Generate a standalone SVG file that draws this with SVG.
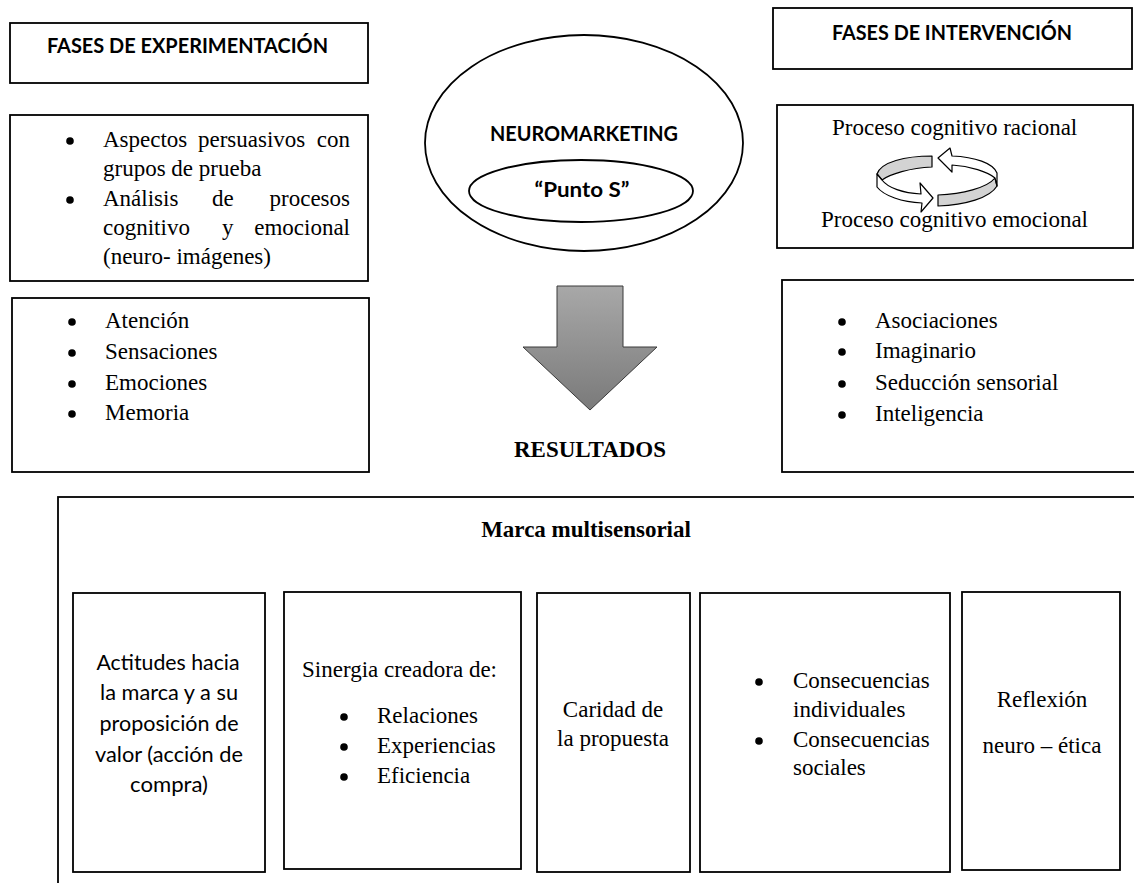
<svg xmlns="http://www.w3.org/2000/svg" width="1134" height="883" viewBox="0 0 1134 883">
  <defs>
    <linearGradient id="arrowFill" x1="0" y1="0" x2="0" y2="1">
      <stop offset="0" stop-color="#a8a8a8"/>
      <stop offset="1" stop-color="#7a7a7a"/>
    </linearGradient>
    <style>
      .box { fill: #ffffff; stroke: #000000; stroke-width: 1.8; }
      .line { fill: none; stroke: #000000; stroke-width: 1.8; }
      .serif { font-family: "Liberation Serif", "Times New Roman", serif; font-size: 23px; fill: #000000; }
      .serif-b { font-family: "Liberation Serif", "Times New Roman", serif; font-size: 23px; font-weight: bold; fill: #000000; }
      .sans { font-family: Lato, "Open Sans", "Liberation Sans", sans-serif; font-size: 21px; fill: #000000; }
      .sans-b { font-family: Lato, "Open Sans", "Liberation Sans", sans-serif; font-size: 20px; font-weight: bold; fill: #000000; }
      .mid { text-anchor: middle; }
      .end { text-anchor: end; }
      .dot { fill: #000000; }
      .ring-gray { fill: #d3d3d3; stroke: #000000; stroke-width: 1.2; stroke-linejoin: round; }
      .ring-white { fill: #ffffff; stroke: #000000; stroke-width: 1.2; stroke-linejoin: round; }
    </style>
  </defs>

  <rect width="1134" height="883" fill="#ffffff"/>

  <!-- Left column: experimentation phases -->
  <g id="fases-experimentacion">
    <rect class="box" x="10" y="23" width="358" height="60"/>
    <text class="sans-b mid" x="187.5" y="53" textLength="281" lengthAdjust="spacingAndGlyphs">FASES DE EXPERIMENTACIÓN</text>
  </g>

  <g id="aspectos">
    <rect class="box" x="10" y="115" width="358" height="166"/>
    <circle class="dot" cx="70" cy="141" r="3.8"/>
    <text class="serif" x="103" y="147">Aspectos</text>
    <text class="serif" x="198" y="147">persuasivos</text>
    <text class="serif end" x="350" y="147">con</text>
    <text class="serif" x="103" y="176">grupos de prueba</text>
    <circle class="dot" cx="70" cy="200" r="3.8"/>
    <text class="serif" x="103" y="206">Análisis</text>
    <text class="serif" x="212" y="206">de</text>
    <text class="serif end" x="350" y="206">procesos</text>
    <text class="serif" x="103" y="235">cognitivo</text>
    <text class="serif" x="222" y="235">y</text>
    <text class="serif end" x="350" y="235">emocional</text>
    <text class="serif" x="103" y="264">(neuro- imágenes)</text>
  </g>

  <g id="atencion">
    <rect class="box" x="12" y="298" width="357" height="174"/>
    <circle class="dot" cx="72" cy="322" r="3.8"/>
    <text class="serif" x="105" y="328">Atención</text>
    <circle class="dot" cx="72" cy="353" r="3.8"/>
    <text class="serif" x="105" y="359">Sensaciones</text>
    <circle class="dot" cx="72" cy="384" r="3.8"/>
    <text class="serif" x="105" y="390">Emociones</text>
    <circle class="dot" cx="72" cy="414" r="3.8"/>
    <text class="serif" x="105" y="420">Memoria</text>
  </g>

  <!-- Centre: neuromarketing ellipse and result arrow -->
  <g id="neuromarketing">
    <ellipse class="box" cx="584" cy="143" rx="159" ry="108"/>
    <text class="sans-b mid" x="584" y="141" textLength="188" lengthAdjust="spacingAndGlyphs">NEUROMARKETING</text>
  </g>

  <g id="punto-s">
    <ellipse class="box" cx="581" cy="191" rx="112" ry="31"/>
    <text class="sans-b mid" x="582" y="197" textLength="95" lengthAdjust="spacingAndGlyphs">“Punto S”</text>
  </g>

  <g id="resultados">
    <path d="M 557,286 L 623,286 L 623,347 L 657,347 L 590,410 L 523,347 L 557,347 Z" fill="url(#arrowFill)" stroke="#3a3a3a" stroke-width="1"/>
    <text class="serif-b mid" x="590" y="457">RESULTADOS</text>
  </g>

  <!-- Right column: intervention phases -->
  <g id="fases-intervencion">
    <rect class="box" x="773" y="8" width="359" height="61"/>
    <text class="sans-b mid" x="952" y="40" textLength="240" lengthAdjust="spacingAndGlyphs">FASES DE INTERVENCIÓN</text>
  </g>

  <g id="procesos">
    <rect class="box" x="777" y="105" width="356" height="143"/>
    <text class="serif" x="832" y="135">Proceso cognitivo racional</text>
    <!-- circular arrows: left half -->
    <path class="ring-gray" d="M 932,156 C 905,156 881,162 877,174 L 882,180 C 890,174 910,168 932,167 Z"/>
    <path class="ring-white" d="M 877,174 L 877,187 C 884,196 902,202 922,203 L 921,212 L 933,198 L 920,183 L 921,194 C 903,193 888,188 882,180 Z"/>
    <!-- circular arrows: right half -->
    <path class="ring-gray" d="M 938,195 C 962,194 987,188 995,178 L 997,186 C 990,198 965,205 938,206 Z"/>
    <path class="ring-white" d="M 997,186 L 997,173 C 993,163 975,157 952,156 L 950,148 L 938,158 L 952,172 L 952,165 C 970,166 988,172 995,178 Z"/>
    <text class="serif" x="821" y="227">Proceso cognitivo emocional</text>
  </g>

  <g id="asociaciones">
    <rect class="box" x="782" y="280" width="360" height="192"/>
    <circle class="dot" cx="842" cy="322" r="3.8"/>
    <text class="serif" x="875" y="328">Asociaciones</text>
    <circle class="dot" cx="842" cy="352" r="3.8"/>
    <text class="serif" x="875" y="358">Imaginario</text>
    <circle class="dot" cx="842" cy="384" r="3.8"/>
    <text class="serif" x="875" y="390">Seducción sensorial</text>
    <circle class="dot" cx="842" cy="415" r="3.8"/>
    <text class="serif" x="875" y="421">Inteligencia</text>
  </g>

  <!-- Bottom: multisensory brand panel -->
  <g id="marca-multisensorial">
    <rect class="box" x="58" y="497" width="1100" height="400"/>
    <text class="serif-b mid" x="586" y="537">Marca multisensorial</text>
  </g>

  <g id="actitudes">
    <rect class="box" x="73" y="593" width="192" height="279"/>
    <text class="sans mid" x="168" y="670" textLength="143" lengthAdjust="spacingAndGlyphs">Actitudes hacia</text>
    <text class="sans mid" x="169" y="700" textLength="138" lengthAdjust="spacingAndGlyphs">la marca y a su</text>
    <text class="sans mid" x="169" y="731" textLength="139" lengthAdjust="spacingAndGlyphs">proposición de</text>
    <text class="sans mid" x="169" y="762" textLength="148" lengthAdjust="spacingAndGlyphs">valor (acción de</text>
    <text class="sans mid" x="169" y="792" textLength="78" lengthAdjust="spacingAndGlyphs">compra)</text>
  </g>

  <g id="sinergia">
    <rect class="box" x="284" y="592" width="237" height="277"/>
    <text class="serif" x="302" y="677">Sinergia creadora de:</text>
    <circle class="dot" cx="344" cy="717" r="3.8"/>
    <text class="serif" x="377" y="723">Relaciones</text>
    <circle class="dot" cx="344" cy="747" r="3.8"/>
    <text class="serif" x="377" y="753">Experiencias</text>
    <circle class="dot" cx="344" cy="777" r="3.8"/>
    <text class="serif" x="377" y="783">Eficiencia</text>
  </g>

  <g id="caridad">
    <rect class="box" x="537" y="593" width="153" height="279"/>
    <text class="serif mid" x="613" y="717">Caridad de</text>
    <text class="serif mid" x="613" y="746">la propuesta</text>
  </g>

  <g id="consecuencias">
    <rect class="box" x="700" y="593" width="250" height="279"/>
    <circle class="dot" cx="759" cy="682" r="3.8"/>
    <text class="serif" x="793" y="688">Consecuencias</text>
    <text class="serif" x="793" y="717">individuales</text>
    <circle class="dot" cx="759" cy="741" r="3.8"/>
    <text class="serif" x="793" y="747">Consecuencias</text>
    <text class="serif" x="793" y="775">sociales</text>
  </g>

  <g id="reflexion">
    <rect class="box" x="962" y="592" width="158" height="278"/>
    <text class="serif mid" x="1042" y="707">Reflexión</text>
    <text class="serif mid" x="1042" y="753">neuro – ética</text>
  </g>

  <!-- no connectors besides the result arrow -->
  <g id="connectors"/>
</svg>
